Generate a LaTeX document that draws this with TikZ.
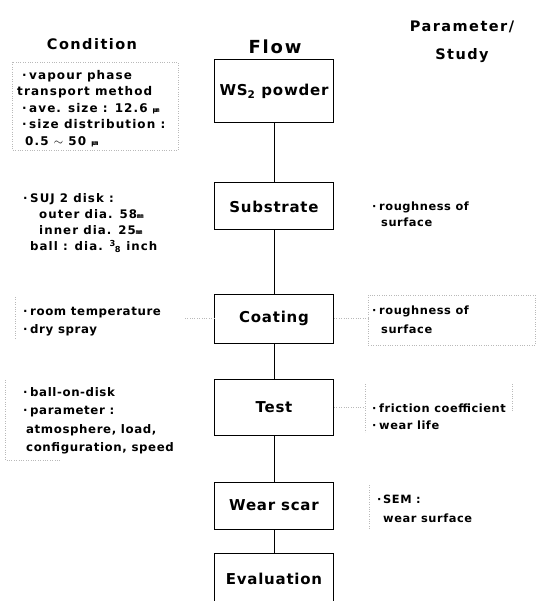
\documentclass[tikz,border=0pt]{standalone}
\usepackage{fontspec}
\setmainfont{DejaVu Sans}[LetterSpace=5]
\newfontfamily\headfont{DejaVu Sans}[LetterSpace=10]
\newfontfamily\widefont{DejaVu Sans}[LetterSpace=9]
\newfontfamily\cjk{Noto Sans CJK KR}
\newcommand{\itm}{\makebox[7pt][l]{·}}
\newcommand{\um}{{\cjk\fontsize{6.5}{6.5}\selectfont ㎛}}
\newcommand{\mm}{{\cjk\fontsize{6.5}{6.5}\selectfont ㎜}}

\begin{document}
\begin{tikzpicture}[x=1pt, y=-1pt]
    \tikzstyle{line} = [line width=1pt]
    \tikzstyle{faint} = [draw=gray!55, dotted, line width=0.4pt]
    \tikzstyle{box} = [rectangle, draw=black, line width=1pt, align=center,
        minimum width=119pt, fill=white,
        font=\bfseries\fontsize{15}{17}\selectfont]
    \tikzstyle{head} = [align=center,
        font=\headfont\bfseries\fontsize{14.5}{28}\selectfont]
    \tikzstyle{note} = [align=left, anchor=north west, inner sep=0pt]

    \useasboundingbox (0,0) rectangle (545,601);
    \clip (0,0) rectangle (545,601);

    % column heads
    \node(condhead) [head] at (92,44) {Condition};
    \node(flowhead) [head, font=\headfont\bfseries\fontsize{18}{20}\selectfont]
        at (275,47) {Flow};
    \node(parahead) [head] at (462,42) {Parameter/\\Study};

    % flow boxes
    \node(powder) [box, minimum height=63pt] at (274,91.5)
        {WS\textsubscript{2} powder};
    \node(substrate) [box, minimum height=47pt] at (274,206.5) {Substrate};
    \node(coating) [box, minimum height=49pt] at (274,318.5) {Coating};
    \node(test) [box, minimum height=56pt] at (274,407) {Test};
    \node(wear) [box, minimum height=47pt] at (274,505.5) {Wear scar};
    \node(evaluation) [box, minimum height=52pt] at (274,579) {Evaluation};

    \draw[line] (powder) -- (substrate);
    \draw[line] (substrate) -- (coating);
    \draw[line] (coating) -- (test);
    \draw[line] (test) -- (wear);
    \draw[line] (wear) -- (evaluation);

    % conditions
    \node(powdercond) [note,
        font=\widefont\bfseries\fontsize{12}{16.5}\selectfont]
        at (17,70)
        {\hspace*{5pt}\itm vapour phase\\
         transport method\\
         \hspace*{5pt}\itm ave. size : 12.6 \um\\
         \hspace*{5pt}\itm size distribution :\\
         \hspace*{8pt}0.5 $\sim$ 50 \um};

    \node(substratecond) [note,
        font=\widefont\bfseries\fontsize{11.8}{16.2}\selectfont]
        at (23,193)
        {\itm SUJ 2 disk :\\
         \hspace*{16pt}outer dia. 58\mm\\
         \hspace*{16pt}inner dia. 25\mm\\
         \hspace*{7pt}ball : dia. \textsuperscript{3}\kern-1pt\textsubscript{8} inch};

    \node(coatingcond) [note, font=\bfseries\fontsize{11.8}{18.5}\selectfont]
        at (23,307)
        {\itm room temperature\\
         \itm dry spray};

    \node(testcond) [note, font=\bfseries\fontsize{11.8}{18.3}\selectfont]
        at (23,387.5)
        {\itm ball-on-disk\\
         \itm parameter :\\
         \hspace*{3pt}atmosphere, load,\\
         \hspace*{3pt}configuration, speed};

    % parameters / study
    \node(substratepara) [note, font=\bfseries\fontsize{11.4}{15.5}\selectfont]
        at (372,202)
        {\itm roughness of\\
         \hspace*{9pt}surface};

    \node(coatingpara) [note, font=\bfseries\fontsize{11.4}{18.5}\selectfont]
        at (372,306)
        {\itm roughness of\\
         \hspace*{9pt}surface};

    \node(testpara) [note, font=\bfseries\fontsize{11.4}{17}\selectfont]
        at (372,404)
        {\itm friction coefficient\\
         \itm wear life};

    \node(wearpara) [note, font=\bfseries\fontsize{11.4}{19}\selectfont]
        at (377,495)
        {\makebox[6pt][l]{·}SEM :\\
         \hspace*{6pt}wear surface};

    % faint frames of the scan
    \draw[faint] (12,62) rectangle (178,150);
    \draw[faint] (15,297) -- (15,340);
    \draw[faint] (5,380) -- (5,460) -- (60,460);
    \draw[faint] (368,295) rectangle (535,345);
    \draw[faint] (365,384) -- (365,432);
    \draw[faint] (512,384) -- (512,412);
    \draw[faint] (369,485) -- (369,530);

    \coordinate(coatleft) at (185,318.5);
    \coordinate(coatright) at (368,318.5);
    \coordinate(testright) at (365,407);
    \draw[faint] (coating.west) -- (coatleft);
    \draw[faint] (coating.east) -- (coatright);
    \draw[faint] (test.east) -- (testright);
\end{tikzpicture}
\end{document}
